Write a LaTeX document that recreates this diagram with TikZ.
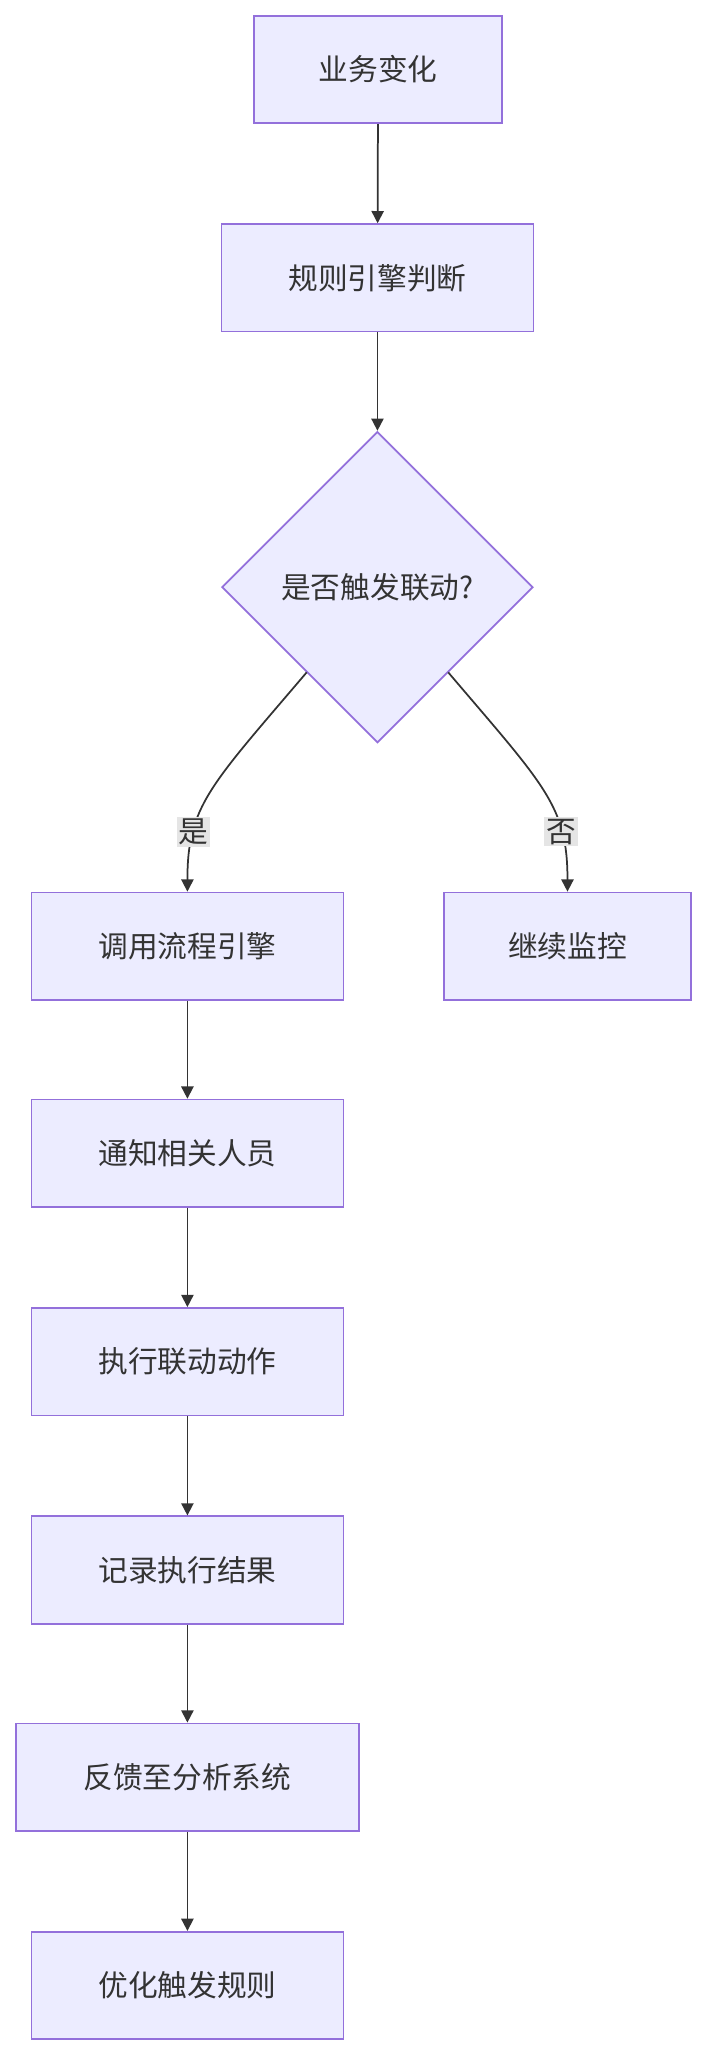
\documentclass[tikz,border=0pt]{standalone}
\usepackage{fontspec}
\setmainfont{Noto Sans CJK SC}
\usetikzlibrary{shapes.geometric,arrows.meta}
\definecolor{boxfill}{HTML}{ECECFF}
\definecolor{boxline}{HTML}{9370DB}
\definecolor{edge}{HTML}{333333}
\tikzset{
  stage/.style={draw=boxline,fill=boxfill,line width=1pt,minimum height=61.5pt,
    font=\fontsize{17}{20}\selectfont,text=edge},
  check/.style={draw=boxline,fill=boxfill,line width=1pt,diamond,aspect=1,
    minimum width=178pt,minimum height=178pt,inner sep=0pt,
    font=\fontsize{17}{20}\selectfont,text=edge},
  link/.style={draw=edge,line width=1pt,-{Triangle[length=7pt,width=7pt]}},
  tag/.style={fill=gray!20,inner sep=1pt,font=\fontsize{17}{20}\selectfont,text=edge}
}
\begin{document}
\begin{tikzpicture}[x=0.75pt,y=-0.75pt]
    \useasboundingbox (0,0) rectangle (540,1568);
    % main line
    \node[stage,minimum width=141.75pt] (change) at (288.5,53) {业务变化};
    \node[stage,minimum width=178.5pt] (rules) at (288,212) {规则引擎判断};
    \node[check] (trigger) at (288,448) {是否触发联动?};
    % branches
    \node[stage,minimum width=178.5pt] (flow) at (143,722) {调用流程引擎};
    \node[stage,minimum width=141.75pt] (watch) at (433,722) {继续监控};
    \node[stage,minimum width=178.5pt] (notify) at (143,880) {通知相关人员};
    \node[stage,minimum width=178.5pt] (act) at (143,1039) {执行联动动作};
    \node[stage,minimum width=178.5pt] (log) at (143,1198) {记录执行结果};
    \node[stage,minimum width=196.5pt] (report) at (143,1356) {反馈至分析系统};
    \node[stage,minimum width=178.5pt] (tune) at (143,1515) {优化触发规则};
    \coordinate (yesout) at (234,513);
    \coordinate (noout) at (342,513);
    \draw[link] (change) -- (rules);
    \draw[link] (rules) -- (trigger);
    \draw[link] (yesout) .. controls (160,600) and (143,615) .. node[tag,pos=0.72] (yes) {是} (flow.north);
    \draw[link] (noout) .. controls (416,600) and (433,615) .. node[tag,pos=0.72] (no) {否} (watch.north);
    \foreach \a/\b in {flow/notify,notify/act,act/log,log/report,report/tune}
      \draw[link] (\a) -- (\b);
\end{tikzpicture}
\end{document}
